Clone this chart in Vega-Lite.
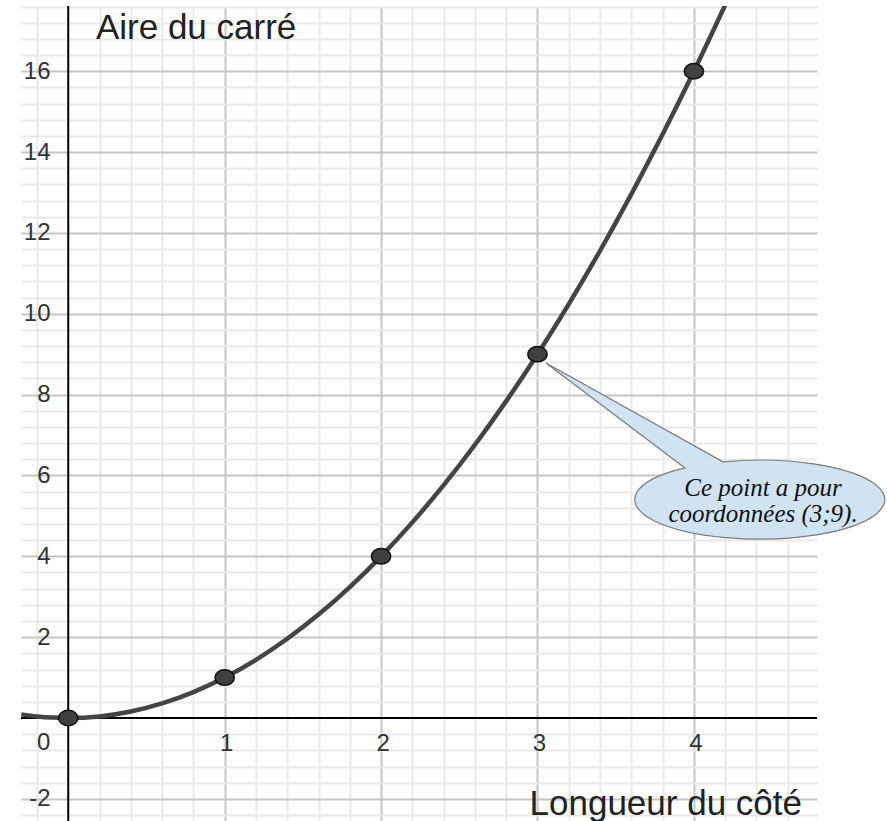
{
  "$schema": "https://vega.github.io/schema/vega-lite/v6.json",
  "width": 796,
  "height": 815,
  "autosize": {"type": "none"},
  "padding": {"left": 21, "top": 6, "right": 70, "bottom": 0},
  "background": "white",
  "config": {"view": {"stroke": null}},
  "datasets": {
    "curve": [
      {"x": -0.3, "y": 0.09}, {"x": -0.2, "y": 0.04}, {"x": -0.1, "y": 0.01}, {"x": 0, "y": 0},
      {"x": 0.2, "y": 0.04}, {"x": 0.4, "y": 0.16}, {"x": 0.6, "y": 0.36}, {"x": 0.8, "y": 0.64},
      {"x": 1, "y": 1}, {"x": 1.2, "y": 1.44}, {"x": 1.4, "y": 1.96}, {"x": 1.6, "y": 2.56},
      {"x": 1.8, "y": 3.24}, {"x": 2, "y": 4}, {"x": 2.2, "y": 4.84}, {"x": 2.4, "y": 5.76},
      {"x": 2.6, "y": 6.76}, {"x": 2.8, "y": 7.84}, {"x": 3, "y": 9}, {"x": 3.2, "y": 10.24},
      {"x": 3.4, "y": 11.56}, {"x": 3.6, "y": 12.96}, {"x": 3.8, "y": 14.44}, {"x": 4, "y": 16},
      {"x": 4.2, "y": 17.64}, {"x": 4.4, "y": 19.36}
    ],
    "points": [
      {"x": 0, "y": 0}, {"x": 1, "y": 1}, {"x": 2, "y": 4}, {"x": 3, "y": 9}, {"x": 4, "y": 16}
    ]
  },
  "resolve": {"axis": {"x": "independent", "y": "independent"}},
  "layer": [
    {
      "data": {"values": [{"x": 0.177, "y": 16.8, "label": "Aire du carré"}]},
      "mark": {"type": "text", "align": "left", "baseline": "alphabetic", "font": "Liberation Sans", "fontSize": 35, "color": "#222222"},
      "encoding": {
        "x": {"field": "x", "type": "quantitative", "scale": {"domain": [-0.302, 4.787], "nice": false, "zero": false},
          "axis": {"orient": "bottom", "title": null, "grid": true, "labels": false, "ticks": false, "domain": false,
            "gridColor": "#e9e9e9", "gridWidth": 2,
            "values": [-0.2, 0.2, 0.4, 0.6, 0.8, 1.2, 1.4, 1.6, 1.8, 2.2, 2.4, 2.6, 2.8, 3.2, 3.4, 3.6, 3.8, 4.2, 4.4, 4.6]}},
        "y": {"field": "y", "type": "quantitative", "scale": {"domain": [-2.548, 17.615], "nice": false, "zero": false},
          "axis": {"orient": "left", "title": null, "grid": true, "labels": false, "ticks": false, "domain": false,
            "gridColor": "#e9e9e9", "gridWidth": 2,
            "values": [-2.4, -1.6, -1.2, -0.8, -0.4, 0.4, 0.8, 1.2, 1.6, 2.4, 2.8, 3.2, 3.6, 4.4, 4.8, 5.2, 5.6, 6.4, 6.8, 7.2, 7.6, 8.4, 8.8, 9.2, 9.6, 10.4, 10.8, 11.2, 11.6, 12.4, 12.8, 13.2, 13.6, 14.4, 14.8, 15.2, 15.6, 16.4, 16.8, 17.2, 17.6]}},
        "text": {"field": "label"}
      }
    },
    {
      "data": {"values": [{"x": 4.691, "y": -2.4, "label": "Longueur du côté"}]},
      "mark": {"type": "text", "align": "right", "baseline": "alphabetic", "font": "Liberation Sans", "fontSize": 35, "color": "#222222"},
      "encoding": {
        "x": {"field": "x", "type": "quantitative", "scale": {"domain": [-0.302, 4.787], "nice": false, "zero": false},
          "axis": {"orient": "bottom", "title": null, "grid": true, "labels": false, "ticks": false, "domain": false,
            "gridColor": "#c6c6c6", "gridWidth": 2, "values": [1, 2, 3, 4]}},
        "y": {"field": "y", "type": "quantitative", "scale": {"domain": [-2.548, 17.615], "nice": false, "zero": false},
          "axis": {"orient": "left", "title": null, "grid": true, "labels": false, "ticks": false, "domain": false,
            "gridColor": "#c6c6c6", "gridWidth": 2, "values": [-2, 2, 4, 6, 8, 10, 12, 14, 16]}},
        "text": {"field": "label"}
      }
    },
    {
      "data": {"values": [{"axis": "vertical"}]},
      "mark": {"type": "rule", "color": "#000000", "strokeWidth": 2},
      "encoding": {
        "x": {"datum": 0, "type": "quantitative", "scale": {"domain": [-0.302, 4.787], "nice": false, "zero": false}, "axis": null}
      }
    },
    {
      "data": {"values": [{"axis": "horizontal"}]},
      "mark": {"type": "rule", "color": "#000000", "strokeWidth": 2},
      "encoding": {
        "y": {"datum": 0, "type": "quantitative", "scale": {"domain": [-2.548, 17.615], "nice": false, "zero": false}, "axis": null}
      }
    },
    {
      "data": {"name": "curve"},
      "mark": {"type": "line", "interpolate": "monotone", "color": "#444444", "strokeWidth": 4.5, "clip": true},
      "encoding": {
        "x": {"field": "x", "type": "quantitative", "scale": {"domain": [-0.302, 4.787], "nice": false, "zero": false},
          "axis": {"orient": "bottom", "offset": -90, "title": null, "grid": false, "ticks": false, "tickSize": 0, "domain": false,
            "labelPadding": 0, "labelBaseline": "top", "labelAlign": "center", "labelFont": "Liberation Sans", "labelFontSize": 24,
            "labelColor": "#333333", "labelOffset": 1.5, "values": [1, 2, 3, 4]}},
        "y": {"field": "y", "type": "quantitative", "scale": {"domain": [-2.548, 17.615], "nice": false, "zero": false},
          "axis": {"orient": "left", "offset": -29, "title": null, "grid": false, "ticks": false, "tickSize": 0, "domain": false,
            "labelPadding": 0, "labelBaseline": "middle", "labelAlign": "right", "labelFont": "Liberation Sans", "labelFontSize": 24,
            "labelColor": "#333333", "values": [-2, 2, 4, 6, 8, 10, 12, 14, 16],
            "labelExpr": "replace(datum.label, '\u2212', '-')"}}
      }
    },
    {
      "data": {"values": [{"x": 0, "y": 0, "label": "0"}]},
      "mark": {"type": "text", "align": "right", "baseline": "top", "dx": -18, "dy": 13, "font": "Liberation Sans", "fontSize": 24, "color": "#333333"},
      "encoding": {
        "x": {"field": "x", "type": "quantitative", "scale": {"domain": [-0.302, 4.787], "nice": false, "zero": false}, "axis": null},
        "y": {"field": "y", "type": "quantitative", "scale": {"domain": [-2.548, 17.615], "nice": false, "zero": false}, "axis": null},
        "text": {"field": "label"}
      }
    },
    {
      "data": {"values": [{"x": 3, "y": 9}]},
      "mark": {"type": "point", "filled": true, "shape": "M147.5,113.7L8.5,8.8L185.5,107.6A125,39.5,0,1,1,147.5,113.7Z",
        "size": 4, "fill": "#cfe3f3", "stroke": "#7a7a7a", "strokeWidth": 1.2, "opacity": 1, "fillOpacity": 1},
      "encoding": {
        "x": {"field": "x", "type": "quantitative", "scale": {"domain": [-0.302, 4.787], "nice": false, "zero": false}, "axis": null},
        "y": {"field": "y", "type": "quantitative", "scale": {"domain": [-2.548, 17.615], "nice": false, "zero": false}, "axis": null}
      }
    },
    {
      "data": {"values": [{"x": 4.442, "y": 5.5, "label": ["Ce point a pour", "coordonnées (3;9)."]}]},
      "mark": {"type": "text", "align": "center", "baseline": "alphabetic", "font": "Liberation Serif", "fontStyle": "italic", "fontSize": 25, "lineHeight": 26, "color": "#111111"},
      "encoding": {
        "x": {"field": "x", "type": "quantitative", "scale": {"domain": [-0.302, 4.787], "nice": false, "zero": false}, "axis": null},
        "y": {"field": "y", "type": "quantitative", "scale": {"domain": [-2.548, 17.615], "nice": false, "zero": false}, "axis": null},
        "text": {"field": "label"}
      }
    },
    {
      "data": {"name": "points"},
      "mark": {"type": "point", "filled": true, "shape": "M-1.25,0A1.25,1,0,1,1,1.25,0A1.25,1,0,1,1,-1.25,0Z",
        "size": 240, "fill": "#404040", "stroke": "#111111", "strokeWidth": 1.5, "opacity": 1},
      "encoding": {
        "x": {"field": "x", "type": "quantitative", "scale": {"domain": [-0.302, 4.787], "nice": false, "zero": false}, "axis": null},
        "y": {"field": "y", "type": "quantitative", "scale": {"domain": [-2.548, 17.615], "nice": false, "zero": false}, "axis": null}
      }
    }
  ]
}
